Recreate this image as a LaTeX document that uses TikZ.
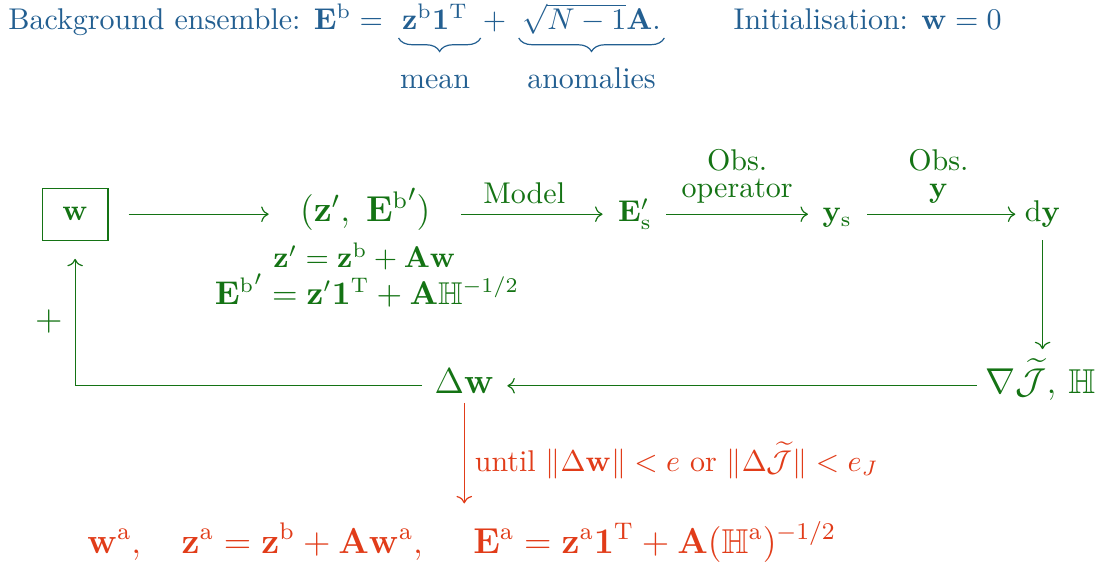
\documentclass[tikz,border=0pt]{standalone}
\usepackage{amsmath}
\usepackage{amssymb}
\usetikzlibrary{arrows.meta, positioning, calc, decorations.pathreplacing}
\definecolor{bleu}{RGB}{35,95,145}
\definecolor{vert}{RGB}{20,115,20}
\definecolor{rouge}{RGB}{225,60,25}

\begin{document}
\begin{tikzpicture}[
  haut/.style={text=bleu, inner sep=0pt, anchor=base west},
  accolade/.style={draw=bleu, decorate, decoration={brace, amplitude=4.5pt}},
  objet/.style={text=vert, inner sep=0pt, text height=7pt, text depth=2pt},
  grand/.style={font=\fontsize{11.5}{14}\selectfont},
  fleche/.style={-To, draw=vert, shorten <=5pt, shorten >=5pt},
  etiq/.style={text=vert, align=center, font=\normalsize}
]
  \useasboundingbox (0,0) rectangle (13.03,-6.60);

  % ensemble et initialisation
  \node[haut] (fond) at (0.09,-0.35) {Background ensemble: $\mathbf{E}^{\mathrm{b}} =$};
  \node[haut, inner xsep=1pt, xshift=5pt] (moy) at (fond.base east) {$\mathbf{z}^{\mathrm{b}}\mathbf{1}^{\mathrm{T}}$};
  \node[haut, xshift=3.5pt] (plus) at (moy.base east) {$+$};
  \node[haut, inner xsep=1pt, xshift=4pt] (anom) at (plus.base east) {$\sqrt{N-1}\mathbf{A}.$};
  \draw[accolade] ([xshift=3pt, yshift=-2.7pt]moy.base east) -- ([yshift=-2.7pt]moy.base west);
  \draw[accolade] ([yshift=-2.7pt]anom.base east) -- ([yshift=-2.7pt]anom.base west);
  \node[haut, anchor=base] (lmoy) at ([yshift=-19.5pt]moy.base) {mean};
  \node[haut, anchor=base] (lanom) at ([yshift=-19.5pt]anom.base) {anomalies};
  \node[haut] (init) at (8.59,-0.35) {Initialisation: $\mathbf{w} = 0$};

  % boucle
  \node[draw=vert, text=vert, minimum width=0.77cm, minimum height=0.61cm] (w) at (0.88,-2.51) {$\mathbf{w}$};
  \node[objet, grand] (zE) at (4.28,-2.51) {$(\mathbf{z}',\; {\mathbf{E}^{\mathrm{b}}}')$};
  \node[text=vert, anchor=base, inner sep=0pt] (zpr) at (4.27,-3.14) {$\mathbf{z}' = \mathbf{z}^{\mathrm{b}} + \mathbf{A}\mathbf{w}$};
  \node[text=vert, anchor=base, inner sep=0pt, font=\fontsize{10.5}{12}\selectfont] (Epr) at (4.30,-3.57) {${\mathbf{E}^{\mathrm{b}}}' = \mathbf{z}'\mathbf{1}^{\mathrm{T}} + \mathbf{A}\mathbb{H}^{-1/2}$};
  \node[objet] (Es) at (7.44,-2.51) {$\mathbf{E}'_{\mathrm{s}}$};
  \node[objet] (ys) at (9.81,-2.51) {$\mathbf{y}_{\mathrm{s}}$};
  \node[objet] (dy) at (12.216,-2.51) {$\mathrm{d}\mathbf{y}$};
  \node[objet, grand] (grad) at (12.19,-4.52) {$\nabla\widetilde{\mathcal{J}},\, \mathbb{H}$};
  \node[objet, grand] (dw) at (5.44,-4.52) {$\Delta\mathbf{w}$};

  \draw[fleche, shorten <=6.7pt, shorten >=10.3pt] (w) -- (zE);
  \draw[fleche, shorten <=10pt] (zE) -- node[etiq, above] {Model} (Es);
  \draw[fleche, shorten <=4.7pt, shorten >=4.7pt] (Es) -- node[etiq, above] {Obs.\\[-3pt]operator} (ys);
  \draw[fleche, shorten >=3pt] (ys) -- node[etiq, above] {Obs.\\[-3pt]$\mathbf{y}$} (dy);
  \draw[fleche, shorten <=4pt, shorten >=7.5pt] (dy.south) -- (dy.south |- grad.north);
  \draw[fleche, shorten <=2.7pt, shorten >=4.3pt] (grad) -- (dw);
  \draw[fleche, shorten <=4pt, shorten >=6pt] (dw.west) -- (w |- dw)
    -- node[pos=0.44, left, text=vert, inner sep=4pt, grand] {$+$} (w.south);

  % sortie
  \node[text=rouge, anchor=base, inner sep=0pt, grand] (ana) at (5.41,-6.48)
    {$\mathbf{w}^{\mathrm{a}},\quad \mathbf{z}^{\mathrm{a}} = \mathbf{z}^{\mathrm{b}} + \mathbf{A}\mathbf{w}^{\mathrm{a}},\quad\; \mathbf{E}^{\mathrm{a}} = \mathbf{z}^{\mathrm{a}}\mathbf{1}^{\mathrm{T}} + \mathbf{A}(\mathbb{H}^{\mathrm{a}})^{-1/2}$};
  \draw[-To, draw=rouge, shorten <=1pt, shorten >=6pt] (dw.south) -- node[right, text=rouge]
    {until $\|\Delta\mathbf{w}\| < e$ or $\|\Delta\widetilde{\mathcal{J}}\| < e_J$} (dw.south |- ana.north);
\end{tikzpicture}
\end{document}
